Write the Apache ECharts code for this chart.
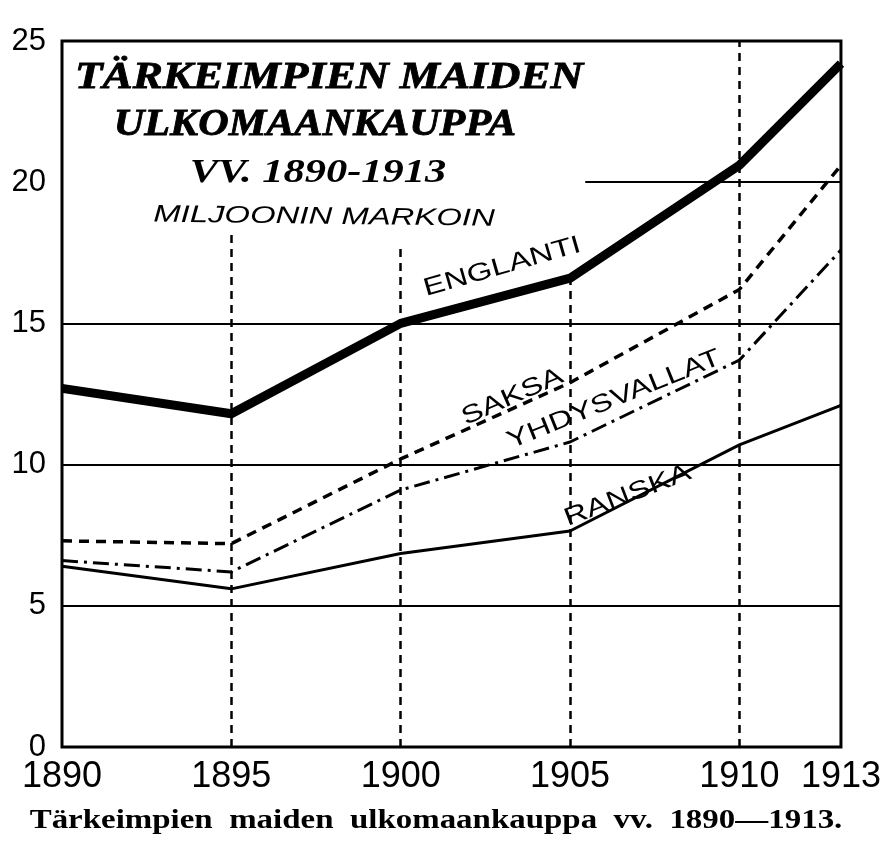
<!DOCTYPE html>
<html>
<head>
<meta charset="utf-8">
<title>Tärkeimpien maiden ulkomaankauppa vv. 1890—1913</title>
<script src="https://cdn.jsdelivr.net/npm/echarts@6/dist/echarts.min.js"></script>
<style>
  html, body { margin: 0; padding: 0; background: #fff; }
  #chart { width: 884px; height: 842px; }
</style>
</head>
<body>
<div id="chart"></div>
<script>
// Foreign trade of the main countries, million marks
const years = [1890, 1895, 1900, 1905, 1910, 1913];
const englanti = [12.7, 11.8, 15.0, 16.6, 20.6, 24.2];
const saksa = [7.3, 7.2, 10.2, 12.9, 16.2, 20.6];
const yhdysvallat = [6.6, 6.2, 9.1, 10.8, 13.7, 17.6];
const ranska = [6.4, 5.6, 6.85, 7.65, 10.7, 12.1];

const yTicks = [0, 5, 10, 15, 20, 25];
const xTicks = [1890, 1895, 1900, 1905, 1910, 1913];

// country labels written along the curves: [name, year, value, angle in degrees]
const curveLabels = [
  ['ENGLANTI', 1903.0, 17.0, 16],
  ['SAKSA', 1903.3, 12.4, 24],
  ['YHDYSVALLAT', 1906.3, 12.3, 22],
  ['RANSKA', 1906.7, 8.9, 21]
];

const pairs = (xs, ys) => xs.map((x, i) => [x, ys[i]]);

const INK = '#000';
const handFont = '"Liberation Sans", "DejaVu Sans", sans-serif';

const chart = echarts.init(document.getElementById('chart'), null, { renderer: 'canvas' });

// horizontal rules; the 20 line only covers the right-hand part
const hRules = [
  [{ coord: [1890, 5] }, { coord: [1913, 5] }],
  [{ coord: [1890, 10] }, { coord: [1913, 10] }],
  [{ coord: [1890, 15] }, { coord: [1913, 15] }],
  [{ coord: [1905.45, 20] }, { coord: [1913, 20] }]
];
// dashed year guides, each stopping where the drawing leaves room for text
const vGuides = [
  [{ coord: [1895, 0] }, { coord: [1895, 18.2] }],
  [{ coord: [1900, 0] }, { coord: [1900, 17.8] }],
  [{ coord: [1905, 0] }, { coord: [1905, englanti[3]] }],
  [{ coord: [1910, 0] }, { coord: [1910, 25] }]
];

const option = {
  backgroundColor: '#fff',
  animation: false,
  grid: {
    left: 62, right: 38, top: 41, bottom: 95,
    show: true, borderColor: INK, borderWidth: 3, backgroundColor: 'transparent'
  },
  xAxis: {
    type: 'value', min: 1890, max: 1913,
    axisLine: { show: false }, axisTick: { show: false }, splitLine: { show: false },
    axisLabel: {
      customValues: xTicks, margin: 12,
      color: INK, fontSize: 36, fontFamily: handFont,
      formatter: v => String(v)
    }
  },
  yAxis: {
    type: 'value', min: 0, max: 25, interval: 5,
    axisLine: { show: false }, axisTick: { show: false }, splitLine: { show: false },
    axisLabel: {
      customValues: yTicks, margin: 16,
      color: INK, fontSize: 31, fontFamily: handFont
    }
  },
  series: [
    {
      name: 'Englanti', type: 'line', data: pairs(years, englanti),
      symbol: 'none', lineStyle: { color: INK, width: 9, join: 'round' },
      z: 5,
      markLine: {
        silent: true, symbol: 'none', label: { show: false },
        lineStyle: { color: INK, width: 2.2, type: 'solid' },
        data: hRules
      }
    },
    {
      name: 'Saksa', type: 'line', data: pairs(years, saksa),
      symbol: 'none', lineStyle: { color: INK, width: 3.5, type: [10, 7] },
      z: 4,
      markLine: {
        silent: true, symbol: 'none', label: { show: false },
        lineStyle: { color: INK, width: 2.5, type: [8, 6] },
        data: vGuides
      }
    },
    {
      name: 'Yhdysvallat', type: 'line', data: pairs(years, yhdysvallat),
      symbol: 'none', lineStyle: { color: INK, width: 3, type: [16, 6, 3, 6] },
      z: 4
    },
    {
      name: 'Ranska', type: 'line', data: pairs(years, ranska),
      symbol: 'none', lineStyle: { color: INK, width: 3 },
      z: 4
    }
  ]
};

chart.setOption(option);

// heading block and caption, plus the country names placed at data positions
const headFont = 'italic bold 37px "Liberation Serif", "DejaVu Serif", serif';
const graphics = [
  { type: 'text', x: 329, y: 78, scaleX: 1.22,
    style: { text: 'TÄRKEIMPIEN MAIDEN', font: headFont, fill: INK, stroke: INK, lineWidth: 0.8, align: 'center', verticalAlign: 'middle' } },
  { type: 'text', x: 315, y: 125, scaleX: 1.14,
    style: { text: 'ULKOMAANKAUPPA', font: headFont, fill: INK, stroke: INK, lineWidth: 0.8, align: 'center', verticalAlign: 'middle' } },
  { type: 'text', x: 318, y: 173, scaleX: 1.25,
    style: { text: 'VV. 1890-1913', font: 'italic bold 34px "Liberation Serif", serif', fill: INK, align: 'center', verticalAlign: 'middle' } },
  { type: 'text', x: 324, y: 217, scaleX: 1.37, rotation: -0.012,
    style: { text: 'MILJOONIN MARKOIN', font: 'italic 24px ' + handFont, fill: INK, align: 'center', verticalAlign: 'middle' } },
  { type: 'text', x: 436, y: 821, scaleX: 1.22,
    style: { text: 'Tärkeimpien  maiden  ulkomaankauppa  vv.  1890—1913.', font: 'bold 27px "Liberation Serif", serif', fill: INK, align: 'center', verticalAlign: 'middle' } }
];
curveLabels.forEach(([name, yr, val, deg]) => {
  const p = chart.convertToPixel({ gridIndex: 0 }, [yr, val]);
  graphics.push({
    type: 'text', x: p[0], y: p[1], rotation: deg * Math.PI / 180, scaleX: 1.3,
    style: { text: name, font: '25px ' + handFont, fill: INK, align: 'center', verticalAlign: 'middle' }
  });
});
chart.setOption({ graphic: graphics });
</script>
</body>
</html>
